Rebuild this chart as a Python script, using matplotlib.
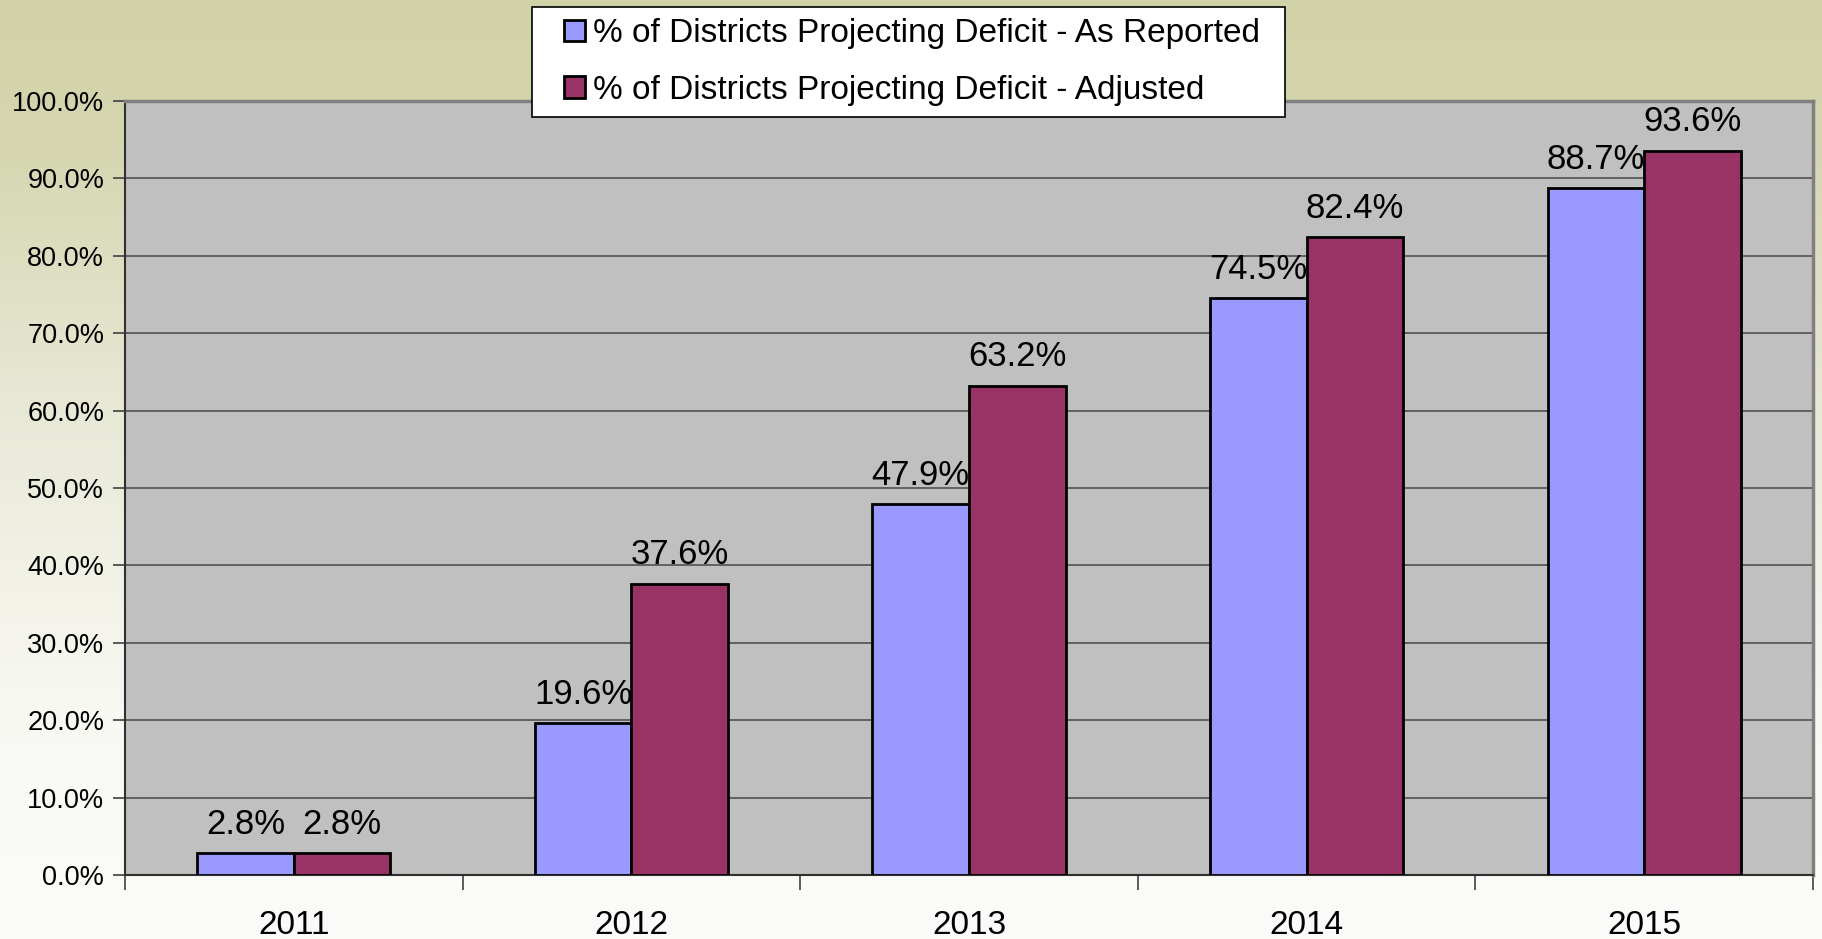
import numpy as np
import matplotlib
matplotlib.use("Agg")
import matplotlib.pyplot as plt
from matplotlib.colors import LinearSegmentedColormap
from matplotlib.patches import Rectangle
from matplotlib.legend_handler import HandlerPatch

years = ["2011", "2012", "2013", "2014", "2015"]
as_reported = [2.8, 19.6, 47.9, 74.5, 88.7]
adjusted = [2.8, 37.6, 63.2, 82.4, 93.6]
series_names = ["% of Districts Projecting Deficit - As Reported",
                "% of Districts Projecting Deficit - Adjusted"]
yticks = [0, 10, 20, 30, 40, 50, 60, 70, 80, 90, 100]

plt.rcParams['font.family'] = ['Liberation Sans', 'DejaVu Sans']

fig = plt.figure(figsize=(18.22, 9.39), dpi=100)

# background gradient
bg = fig.add_axes([0, 0, 1, 1], zorder=-10)
bg.axis('off')
cmap = LinearSegmentedColormap.from_list(
    'bg', [(0.0, '#d1d2a7'), (0.15, '#d5d6b0'), (0.45, '#e9e9d8'), (0.75, '#f8f8f3'), (1.0, '#fbfbf9')])
grad = np.linspace(0, 1, 256).reshape(-1, 1)
bg.imshow(grad, aspect='auto', cmap=cmap, extent=[0, 1, 0, 1], origin='upper')
bg.set_xlim(0, 1); bg.set_ylim(0, 1)

ax = fig.add_axes([125/1822, 1-875/939, (1813-125)/1822, (875-101)/939])
ax.set_facecolor('#c0c0c0')

x = np.arange(len(years))
w = 0.286
b1 = ax.bar(x - w/2, as_reported, w, color='#9999ff', edgecolor='black', linewidth=2, zorder=3,
            label=series_names[0])
b2 = ax.bar(x + w/2, adjusted, w, color='#993366', edgecolor='black', linewidth=2, zorder=3,
            label=series_names[1])

for rects, vals in ((b1, as_reported), (b2, adjusted)):
    for r, v in zip(rects, vals):
        ax.annotate(f"{v:.1f}%", (r.get_x() + r.get_width()/2, v), xytext=(0, 9),
                    textcoords='offset points', ha='center', va='bottom', fontsize=25, zorder=4)

ax.set_xlim(-0.5, len(years) - 0.5)
ax.set_ylim(0, 100)
ax.set_yticks(yticks)
ax.set_yticklabels([f"{t:.1f}%" for t in yticks], fontsize=19.5)
ax.yaxis.grid(True, color='#5a5a5a', linewidth=1.3, zorder=0)
ax.set_axisbelow(True)
ax.tick_params(axis='y', length=9, width=1.2, color='#404040', pad=6)

ax.set_xticks(x)
ax.set_xticklabels(years, fontsize=24)
ax.tick_params(axis='x', length=0, pad=25)
ax.set_xticks(np.arange(len(years) + 1) - 0.5, minor=True)
ax.tick_params(axis='x', which='minor', length=11, width=1.2, color='#404040')

for s in ('left', 'bottom'):
    ax.spines[s].set_color('#303030')
    ax.spines[s].set_linewidth(1.5)
for s in ('top', 'right'):
    ax.spines[s].set_color('#808080')
    ax.spines[s].set_linewidth(2.5)


def square_patch(legend, orig_handle, xdescent, ydescent, width, height, fontsize):
    return Rectangle((-xdescent + width - height, -ydescent), height, height)


leg_top = 1 - 7/939
leg = fig.legend(handles=[b1.patches[0], b2.patches[0]], labels=series_names,
                 loc='upper left',
                 bbox_to_anchor=(532/1822, leg_top - 0.01, (1285-532)/1822, 0.01), mode='expand',
                 fontsize=24,
                 handler_map={Rectangle: HandlerPatch(patch_func=square_patch)},
                 frameon=True, fancybox=False, edgecolor='black', framealpha=1,
                 handlelength=1.26, handleheight=0.62, handletextpad=0.24,
                 labelspacing=0.76, borderpad=0.34, borderaxespad=0)
leg.get_frame().set_linewidth(1.2)
leg.set_zorder(10)

fig.savefig('out.png', dpi=100)
